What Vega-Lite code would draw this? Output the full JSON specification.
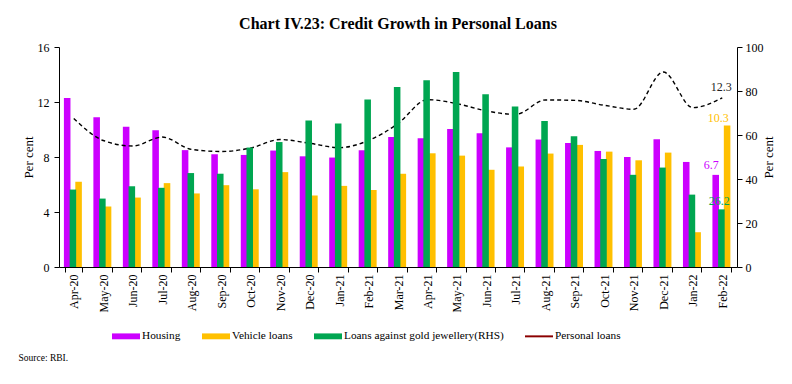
{
  "$schema": "https://vega.github.io/schema/vega-lite/v6.json",
  "width": 678,
  "height": 220,
  "autosize": {"type": "none"},
  "padding": {"left": 59, "top": 47, "right": 55, "bottom": 117},
  "background": "white",
  "config": {
    "font": "Liberation Serif",
    "view": {"stroke": null},
    "axis": {
      "labelFont": "Liberation Serif",
      "titleFont": "Liberation Serif",
      "grid": false,
      "domainColor": "black",
      "tickColor": "black",
      "labelColor": "black",
      "titleColor": "black",
      "labelFontSize": 12,
      "titleFontSize": 13,
      "titleFontWeight": "normal",
      "tickSize": 5
    }
  },
  "title": {
    "text": "Chart IV.23: Credit Growth in Personal Loans",
    "font": "Liberation Serif",
    "fontSize": 16,
    "fontWeight": "bold",
    "color": "black",
    "anchor": "middle",
    "offset": 9
  },
  "data": {
    "values": [
      {"month": "Apr-20", "Housing": 12.3, "Vehicle loans": 6.2, "Loans against gold jewellery(RHS)": 35.2, "Personal loans": 10.8},
      {"month": "May-20", "Housing": 10.9, "Vehicle loans": 4.4, "Loans against gold jewellery(RHS)": 31.1, "Personal loans": 9.2},
      {"month": "Jun-20", "Housing": 10.2, "Vehicle loans": 5.05, "Loans against gold jewellery(RHS)": 36.7, "Personal loans": 8.8},
      {"month": "Jul-20", "Housing": 9.95, "Vehicle loans": 6.1, "Loans against gold jewellery(RHS)": 36.0, "Personal loans": 9.45},
      {"month": "Aug-20", "Housing": 8.5, "Vehicle loans": 5.35, "Loans against gold jewellery(RHS)": 42.7, "Personal loans": 8.55},
      {"month": "Sep-20", "Housing": 8.2, "Vehicle loans": 5.95, "Loans against gold jewellery(RHS)": 42.4, "Personal loans": 8.4},
      {"month": "Oct-20", "Housing": 8.15, "Vehicle loans": 5.65, "Loans against gold jewellery(RHS)": 54.3, "Personal loans": 8.65},
      {"month": "Nov-20", "Housing": 8.47, "Vehicle loans": 6.9, "Loans against gold jewellery(RHS)": 56.8, "Personal loans": 9.27},
      {"month": "Dec-20", "Housing": 8.05, "Vehicle loans": 5.2, "Loans against gold jewellery(RHS)": 66.6, "Personal loans": 9.0},
      {"month": "Jan-21", "Housing": 7.96, "Vehicle loans": 5.9, "Loans against gold jewellery(RHS)": 65.2, "Personal loans": 8.68},
      {"month": "Feb-21", "Housing": 8.49, "Vehicle loans": 5.6, "Loans against gold jewellery(RHS)": 76.1, "Personal loans": 9.2},
      {"month": "Mar-21", "Housing": 9.45, "Vehicle loans": 6.78, "Loans against gold jewellery(RHS)": 81.8, "Personal loans": 10.43},
      {"month": "Apr-21", "Housing": 9.36, "Vehicle loans": 8.27, "Loans against gold jewellery(RHS)": 84.9, "Personal loans": 12.17},
      {"month": "May-21", "Housing": 10.04, "Vehicle loans": 8.1, "Loans against gold jewellery(RHS)": 88.6, "Personal loans": 11.88},
      {"month": "Jun-21", "Housing": 9.72, "Vehicle loans": 7.07, "Loans against gold jewellery(RHS)": 78.5, "Personal loans": 11.35},
      {"month": "Jul-21", "Housing": 8.7, "Vehicle loans": 7.31, "Loans against gold jewellery(RHS)": 73.0, "Personal loans": 11.1},
      {"month": "Aug-21", "Housing": 9.27, "Vehicle loans": 8.25, "Loans against gold jewellery(RHS)": 66.4, "Personal loans": 12.15},
      {"month": "Sep-21", "Housing": 9.02, "Vehicle loans": 8.88, "Loans against gold jewellery(RHS)": 59.4, "Personal loans": 12.12},
      {"month": "Oct-21", "Housing": 8.44, "Vehicle loans": 8.39, "Loans against gold jewellery(RHS)": 49.1, "Personal loans": 11.76},
      {"month": "Nov-21", "Housing": 8.0, "Vehicle loans": 7.76, "Loans against gold jewellery(RHS)": 41.9, "Personal loans": 11.47},
      {"month": "Dec-21", "Housing": 9.29, "Vehicle loans": 8.32, "Loans against gold jewellery(RHS)": 45.2, "Personal loans": 14.18},
      {"month": "Jan-22", "Housing": 7.64, "Vehicle loans": 2.53, "Loans against gold jewellery(RHS)": 32.9, "Personal loans": 11.59},
      {"month": "Feb-22", "Housing": 6.7, "Vehicle loans": 10.3, "Loans against gold jewellery(RHS)": 26.2, "Personal loans": 12.3}
    ]
  },
  "layer": [
    {
      "layer": [
        {
          "transform": [{"fold": ["Housing", "Vehicle loans"], "as": ["series", "value"]}],
          "mark": {"type": "bar", "width": {"band": 1.15}},
          "encoding": {
            "x": {
              "field": "month", "type": "nominal", "sort": null,
              "scale": {"paddingInner": 0.42, "paddingOuter": 0.21},
              "axis": {
                "title": "Source: RBI.",
                "titleFontSize": 9.5,
                "titleAnchor": "start",
                "titleAlign": "left",
                "titleBaseline": "middle",
                "titleX": -41,
                "titleY": 90,
                "labelAngle": -90,
                "labelAlign": "right",
                "labelBaseline": "middle",
                "labelPadding": 2,
                "tickBand": "extent",
                "labelFontSize": 12
              }
            },
            "xOffset": {
              "field": "series", "type": "nominal",
              "scale": {"domain": ["Housing", "Loans against gold jewellery(RHS)", "Vehicle loans"]}
            },
            "y": {
              "field": "value", "type": "quantitative",
              "scale": {"domain": [0, 16]},
              "axis": {"title": "Per cent", "values": [0, 4, 8, 12, 16], "labelPadding": 5, "titlePadding": 2, "orient": "left"}
            },
            "color": {
              "field": "series", "type": "nominal",
              "scale": {
                "domain": ["Housing", "Vehicle loans", "Loans against gold jewellery(RHS)", "Personal loans"],
                "range": ["#CC00FF", "#FFC000", "#00A651", "#8B0000"]
              },
              "legend": {
                "title": null,
                "orient": "none",
                "legendX": 53,
                "legendY": 275,
                "direction": "horizontal",
                "columns": 4,
                "columnPadding": 21,
                "padding": 0,
                "labelFont": "Liberation Serif",
                "labelFontSize": 11.3,
                "labelColor": "black",
                "labelOffset": 2,
                "labelLimit": 0,
                "symbolSize": 784,
                "symbolStrokeWidth": 0,
                "symbolOpacity": 1,
                "encode": {
                  "symbols": {
                    "update": {
                      "shape": {"signal": "datum.value === 'Personal loans' ? 'M-1,-0.07H1V0.07H-1Z' : 'M-1,-0.21H1V0.21H-1Z'"}
                    }
                  }
                }
              }
            }
          }
        },
        {
          "mark": {"type": "line", "color": "black", "strokeWidth": 1.4, "strokeDash": [4, 3], "interpolate": "monotone"},
          "encoding": {
            "x": {"field": "month", "type": "nominal", "sort": null},
            "y": {"field": "Personal loans", "type": "quantitative"}
          }
        },
        {
          "transform": [{"filter": "datum.month === 'Feb-22'"}],
          "mark": {"type": "text", "color": "#222222", "fontSize": 12, "dx": -1, "dy": -11, "align": "center", "baseline": "middle", "font": "Liberation Serif"},
          "encoding": {
            "x": {"field": "month", "type": "nominal", "sort": null},
            "y": {"field": "Personal loans", "type": "quantitative"},
            "text": {"field": "Personal loans", "type": "quantitative", "format": ".1f"}
          }
        },
        {
          "transform": [{"filter": "datum.month === 'Feb-22'"}],
          "mark": {"type": "text", "color": "#FFC000", "fontSize": 12, "dx": -4, "dy": -7, "align": "center", "baseline": "middle", "font": "Liberation Serif"},
          "encoding": {
            "x": {"field": "month", "type": "nominal", "sort": null},
            "y": {"field": "Vehicle loans", "type": "quantitative"},
            "text": {"field": "Vehicle loans", "type": "quantitative", "format": ".1f"}
          }
        },
        {
          "transform": [{"filter": "datum.month === 'Feb-22'"}],
          "mark": {"type": "text", "color": "#CC00FF", "fontSize": 12, "dx": -11, "dy": -10, "align": "center", "baseline": "middle", "font": "Liberation Serif"},
          "encoding": {
            "x": {"field": "month", "type": "nominal", "sort": null},
            "y": {"field": "Housing", "type": "quantitative"},
            "text": {"field": "Housing", "type": "quantitative", "format": ".1f"}
          }
        }
      ]
    },
    {
      "layer": [
        {
          "transform": [{"fold": ["Loans against gold jewellery(RHS)"], "as": ["series", "value"]}],
          "mark": {"type": "bar", "width": {"band": 1.15}},
          "encoding": {
            "x": {"field": "month", "type": "nominal", "sort": null},
            "xOffset": {
              "field": "series", "type": "nominal",
              "scale": {"domain": ["Housing", "Loans against gold jewellery(RHS)", "Vehicle loans"]}
            },
            "y": {
              "field": "value", "type": "quantitative",
              "scale": {"domain": [0, 100]},
              "axis": {"title": "Per cent", "titleAngle": 270, "values": [0, 20, 40, 60, 80, 100], "orient": "right", "labelPadding": 3, "titlePadding": 12}
            },
            "color": {"field": "series", "type": "nominal"}
          }
        },
        {
          "transform": [{"filter": "datum.month === 'Feb-22'"}],
          "mark": {"type": "text", "color": "#00A651", "fontSize": 12, "dx": -3, "dy": -8, "align": "center", "baseline": "middle", "font": "Liberation Serif"},
          "encoding": {
            "x": {"field": "month", "type": "nominal", "sort": null},
            "y": {"field": "Loans against gold jewellery(RHS)", "type": "quantitative"},
            "text": {"field": "Loans against gold jewellery(RHS)", "type": "quantitative", "format": ".1f"}
          }
        }
      ]
    }
  ],
  "resolve": {"scale": {"y": "independent"}}
}
